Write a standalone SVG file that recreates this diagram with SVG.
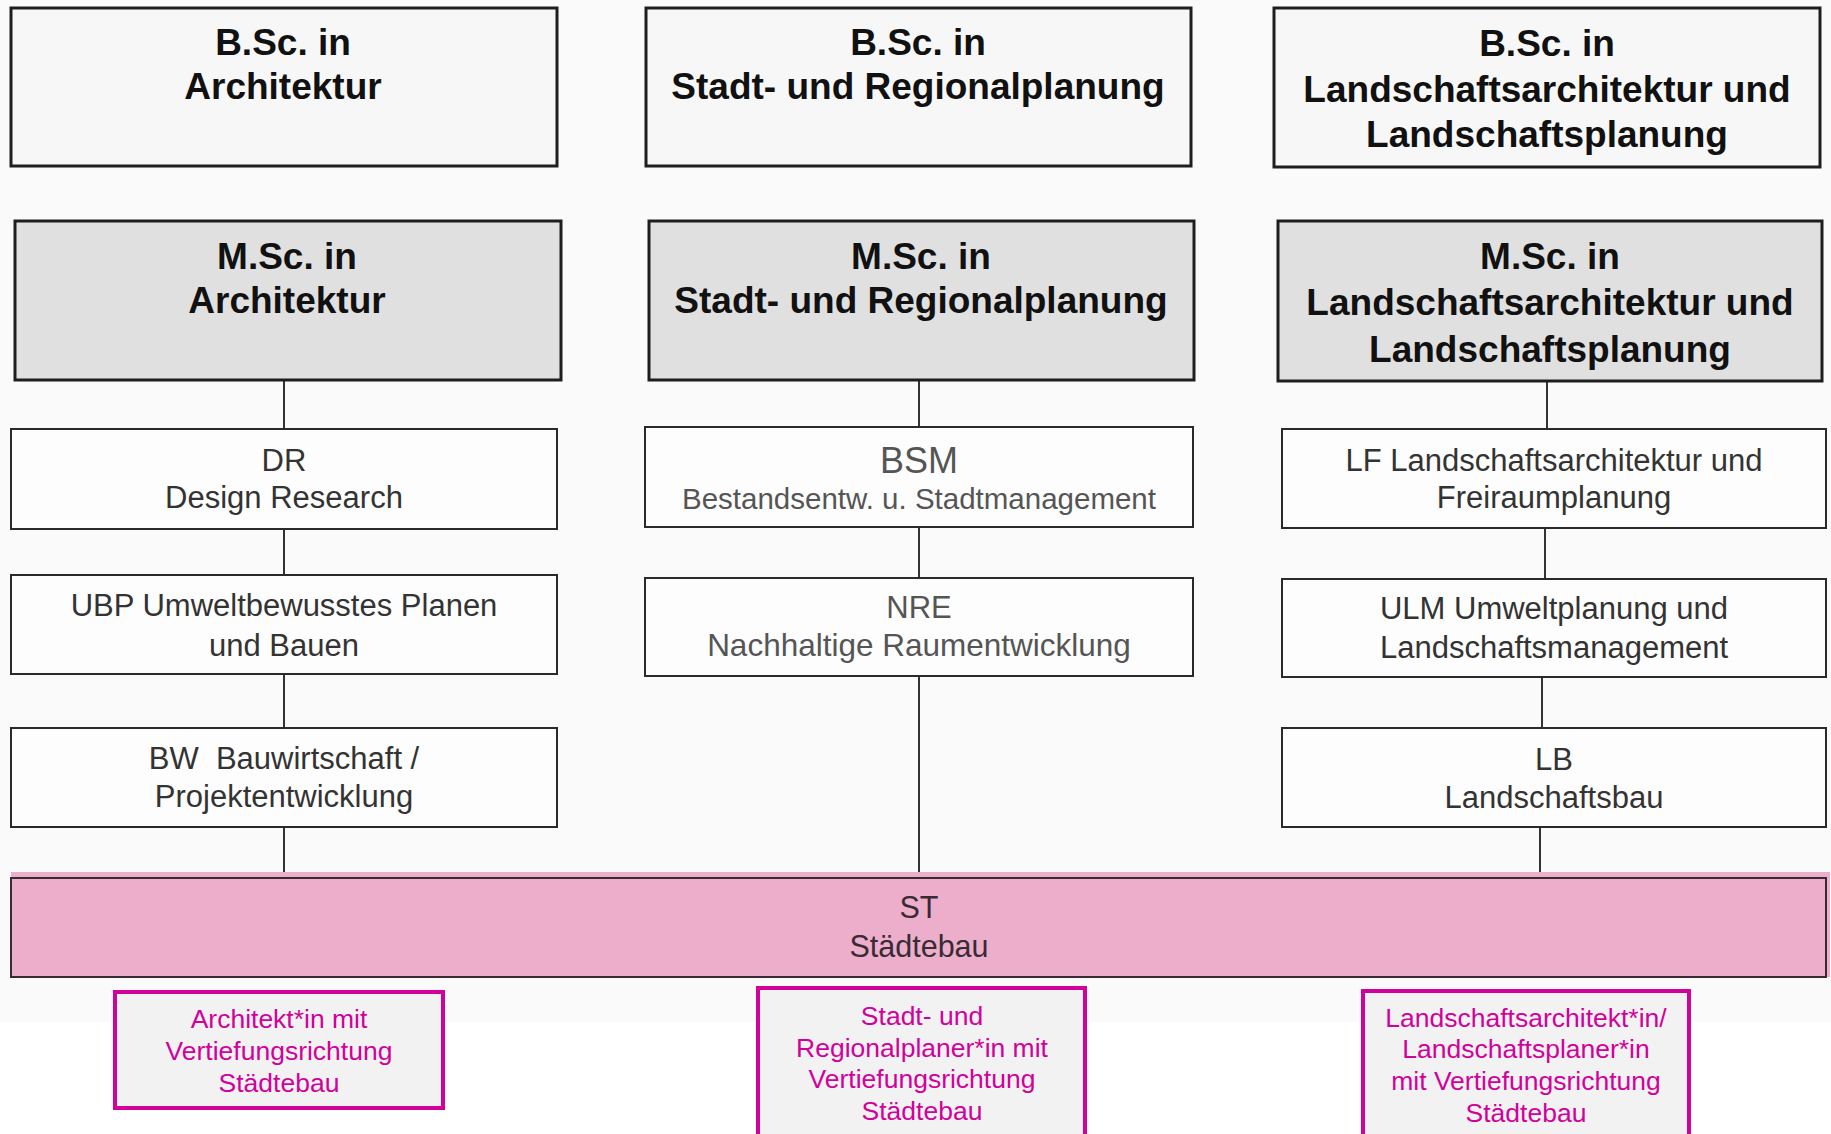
<svg xmlns="http://www.w3.org/2000/svg" width="1831" height="1134" viewBox="0 0 1831 1134">
<style>
.bsc{fill:#f7f7f7;stroke:#1e1e1e;stroke-width:3}
.msc{fill:#e0e0e0;stroke:#1e1e1e;stroke-width:3}
.crs{fill:#fdfdfd;stroke:#2a2a2a;stroke-width:2}
.out{fill:#f2f2f2;stroke:#d1019b;stroke-width:4}
.h{font-family:"Liberation Sans",Arial,sans-serif;font-weight:bold;fill:#111;text-anchor:middle;font-size:37px}
.c{font-family:"Liberation Sans",Arial,sans-serif;fill:#333;text-anchor:middle;font-size:31px}
.g{font-family:"Liberation Sans",Arial,sans-serif;fill:#555;text-anchor:middle}
.m{font-family:"Liberation Sans",Arial,sans-serif;fill:#d1019b;text-anchor:middle;font-size:26.5px}
.st{font-family:"Liberation Sans",Arial,sans-serif;fill:#3a2a33;text-anchor:middle;font-size:30.5px}
.conn line{stroke:#333;stroke-width:2}
</style>
<rect x="0" y="0" width="1831" height="1022" fill="#fafafa"/>
<rect x="0" y="1022" width="1831" height="112" fill="#ffffff"/>

<g id="connectors" class="conn">
<line x1="284" y1="380" x2="284" y2="429"/>
<line x1="284" y1="529" x2="284" y2="575"/>
<line x1="284" y1="674" x2="284" y2="728"/>
<line x1="284" y1="827" x2="284" y2="878"/>
<line x1="919" y1="380" x2="919" y2="427"/>
<line x1="919" y1="527" x2="919" y2="578"/>
<line x1="919" y1="676" x2="919" y2="878"/>
<line x1="1547" y1="381" x2="1547" y2="429"/>
<line x1="1545" y1="528" x2="1545" y2="579"/>
<line x1="1542" y1="677" x2="1542" y2="728"/>
<line x1="1540" y1="827" x2="1540" y2="878"/>
</g>

<g id="bsc-architektur">
<rect class="bsc" x="11" y="8" width="546" height="158"/>
<text class="h" x="283" y="55">B.Sc. in</text>
<text class="h" x="283" y="99">Architektur</text>
</g>
<g id="bsc-stadt">
<rect class="bsc" x="646" y="8" width="545" height="158"/>
<text class="h" x="918" y="55">B.Sc. in</text>
<text class="h" x="918" y="99">Stadt- und Regionalplanung</text>
</g>
<g id="bsc-landschaft">
<rect class="bsc" x="1274" y="8" width="546" height="159"/>
<text class="h" x="1547" y="56">B.Sc. in</text>
<text class="h" x="1547" y="102">Landschaftsarchitektur und</text>
<text class="h" x="1547" y="147">Landschaftsplanung</text>
</g>

<g id="msc-architektur">
<rect class="msc" x="15" y="221" width="546" height="159"/>
<text class="h" x="287" y="269">M.Sc. in</text>
<text class="h" x="287" y="313">Architektur</text>
</g>
<g id="msc-stadt">
<rect class="msc" x="649" y="221" width="545" height="159"/>
<text class="h" x="921" y="269">M.Sc. in</text>
<text class="h" x="921" y="313">Stadt- und Regionalplanung</text>
</g>
<g id="msc-landschaft">
<rect class="msc" x="1278" y="221" width="544" height="160"/>
<text class="h" x="1550" y="269">M.Sc. in</text>
<text class="h" x="1550" y="315">Landschaftsarchitektur und</text>
<text class="h" x="1550" y="362">Landschaftsplanung</text>
</g>

<g id="dr">
<rect class="crs" x="11" y="429" width="546" height="100"/>
<text class="c" x="284" y="471">DR</text>
<text class="c" x="284" y="508">Design Research</text>
</g>
<g id="ubp">
<rect class="crs" x="11" y="575" width="546" height="99"/>
<text class="c" x="284" y="616">UBP Umweltbewusstes Planen</text>
<text class="c" x="284" y="656">und Bauen</text>
</g>
<g id="bw">
<rect class="crs" x="11" y="728" width="546" height="99"/>
<text class="c" x="284" y="769">BW&#160; Bauwirtschaft /</text>
<text class="c" x="284" y="807">Projektentwicklung</text>
</g>

<g id="bsm">
<rect class="crs" x="645" y="427" width="548" height="100"/>
<text class="g" font-size="36" x="919" y="473">BSM</text>
<text class="g" font-size="29.5" x="919" y="509">Bestandsentw. u. Stadtmanagement</text>
</g>
<g id="nre">
<rect class="crs" x="645" y="578" width="548" height="98"/>
<text class="g" font-size="31" x="919" y="618">NRE</text>
<text class="g" font-size="31.5" x="919" y="656">Nachhaltige Raumentwicklung</text>
</g>

<g id="lf">
<rect class="crs" x="1282" y="429" width="544" height="99"/>
<text class="c" x="1554" y="471">LF Landschaftsarchitektur und</text>
<text class="c" x="1554" y="508">Freiraumplanung</text>
</g>
<g id="ulm">
<rect class="crs" x="1282" y="579" width="544" height="98"/>
<text class="c" x="1554" y="619">ULM Umweltplanung und</text>
<text class="c" x="1554" y="658">Landschaftsmanagement</text>
</g>
<g id="lb">
<rect class="crs" x="1282" y="728" width="544" height="99"/>
<text class="c" x="1554" y="770">LB</text>
<text class="c" x="1554" y="808">Landschaftsbau</text>
</g>

<g id="st">
<rect x="11" y="872" width="1819" height="105" fill="#ecaecb"/>
<rect x="11" y="878" width="1815" height="99" fill="none" stroke="#3a2a33" stroke-width="2"/>
<text class="st" x="919" y="918">ST</text>
<text class="st" x="919" y="957">Städtebau</text>
</g>

<g id="out-architekt">
<rect class="out" x="115" y="992" width="328" height="116"/>
<text class="m" x="279" y="1028">Architekt*in mit</text>
<text class="m" x="279" y="1060">Vertiefungsrichtung</text>
<text class="m" x="279" y="1092">Städtebau</text>
</g>
<g id="out-stadt">
<rect class="out" x="758" y="988" width="327" height="160"/>
<text class="m" x="922" y="1025">Stadt- und</text>
<text class="m" x="922" y="1057">Regionalplaner*in mit</text>
<text class="m" x="922" y="1088">Vertiefungsrichtung</text>
<text class="m" x="922" y="1120">Städtebau</text>
</g>
<g id="out-landschaft">
<rect class="out" x="1363" y="991" width="326" height="160"/>
<text class="m" x="1526" y="1027">Landschaftsarchitekt*in/</text>
<text class="m" x="1526" y="1058">Landschaftsplaner*in</text>
<text class="m" x="1526" y="1090">mit Vertiefungsrichtung</text>
<text class="m" x="1526" y="1122">Städtebau</text>
</g>
</svg>
